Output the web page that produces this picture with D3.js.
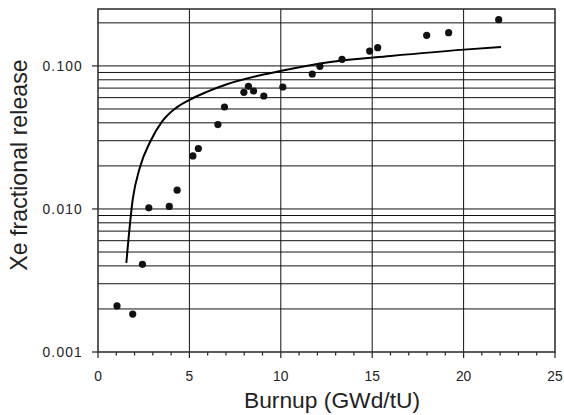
<!DOCTYPE html>
<html>
<head>
<meta charset="utf-8">
<script src="https://cdn.jsdelivr.net/npm/d3@7"></script>
<style>
  html, body { margin: 0; padding: 0; background: #fff; }
  svg { display: block; font-family: "Liberation Sans", Arial, sans-serif; }
</style>
</head>
<body>
<div id="chart"></div>
<script>
// Measured release (scatter)
const burnup = [1.04, 1.90, 2.43, 2.78, 3.90, 4.33, 5.19, 5.49, 6.56, 6.92, 7.98, 8.23,
                8.51, 9.07, 10.11, 11.72, 12.14, 13.35, 14.86, 15.30, 17.98, 19.18, 21.92];
const release = [0.00210, 0.00184, 0.00410, 0.01018, 0.01041, 0.01353, 0.02349, 0.02646,
                 0.0389, 0.0516, 0.0654, 0.0720, 0.0668, 0.0616, 0.0712, 0.0878, 0.0994,
                 0.1112, 0.127, 0.1342, 0.1636, 0.1708, 0.2106];

// Model curve
const modelBurnup = [1.55, 1.90, 2.30, 2.85, 3.49, 4.22, 5.04, 5.95, 7.05, 8.87, 9.97,
                     12.71, 15.99, 20.01, 22.05];
const modelRelease = [0.00420, 0.01165, 0.01968, 0.0294, 0.0406, 0.0503, 0.0582, 0.0658,
                      0.0744, 0.0860, 0.0921, 0.1065, 0.1173, 0.130, 0.1355];

const xTicks = [0, 5, 10, 15, 20, 25];
const yTicks = [0.001, 0.01, 0.1];

const width = 564, height = 415;
const margin = { top: 9, right: 9, bottom: 63, left: 98 };

const svg = d3.select("#chart").append("svg")
    .attr("width", width)
    .attr("height", height);

const x = d3.scaleLinear().domain([0, 25]).range([margin.left, width - margin.right]);
const y = d3.scaleLog().domain([0.001, 0.25]).range([height - margin.bottom, margin.top]);

const x0 = x.range()[0], x1 = x.range()[1];
const y0 = y.range()[0], y1 = y.range()[1];

// horizontal grid at every log step
const hGrid = [];
[0.001, 0.01, 0.1].forEach(d => {
    for (let m = 1; m <= 9; m++) {
        const v = d * m;
        if (v > 0.001 && v <= 0.25) hGrid.push(v);
    }
});
svg.append("g").selectAll("line").data(hGrid).join("line")
    .attr("x1", x0).attr("x2", x1)
    .attr("y1", d => y(d)).attr("y2", d => y(d))
    .attr("stroke", "#111").attr("stroke-width", 1);

// vertical grid
svg.append("g").selectAll("line").data(xTicks.filter(d => d > 0 && d < 25)).join("line")
    .attr("x1", d => x(d)).attr("x2", d => x(d))
    .attr("y1", y0).attr("y2", y1)
    .attr("stroke", "#111").attr("stroke-width", 1);

// x axis ticks (major + minor)
const xAxis = svg.append("g").attr("transform", `translate(0,${y0})`);
xAxis.selectAll("line").data(d3.range(0, 26)).join("line")
    .attr("x1", d => x(d)).attr("x2", d => x(d))
    .attr("y1", 0).attr("y2", d => d % 5 === 0 ? 6 : 3.5)
    .attr("stroke", "#222").attr("stroke-width", 1.2);
xAxis.selectAll("text").data(xTicks).join("text")
    .attr("x", d => x(d)).attr("y", 29)
    .attr("text-anchor", "middle")
    .attr("font-size", 13.8).attr("fill", "#222")
    .text(d => d);

// y axis ticks
const yAxis = svg.append("g").attr("transform", `translate(${x0},0)`);
yAxis.selectAll("line").data(yTicks).join("line")
    .attr("x1", -6).attr("x2", 0)
    .attr("y1", d => y(d)).attr("y2", d => y(d))
    .attr("stroke", "#222").attr("stroke-width", 1.2);
yAxis.selectAll("text").data(yTicks).join("text")
    .attr("x", -15).attr("y", d => y(d) + 5.3)
    .attr("text-anchor", "end")
    .attr("font-size", 13.8).attr("letter-spacing", 1.2).attr("fill", "#222")
    .text(d => d3.format(".3f")(d));

// frame
svg.append("rect")
    .attr("x", x0).attr("y", y1)
    .attr("width", x1 - x0).attr("height", y0 - y1)
    .attr("fill", "none").attr("stroke", "#333").attr("stroke-width", 1.6);

// model curve
const line = d3.line()
    .x(d => x(d[0]))
    .y(d => y(d[1]))
    .curve(d3.curveMonotoneX);
svg.append("path")
    .attr("d", line(d3.zip(modelBurnup, modelRelease)))
    .attr("fill", "none")
    .attr("stroke", "#000")
    .attr("stroke-width", 2);

// measured points
svg.append("g").selectAll("circle").data(d3.zip(burnup, release)).join("circle")
    .attr("cx", d => x(d[0]))
    .attr("cy", d => y(d[1]))
    .attr("r", 3.6)
    .attr("fill", "#111");

// axis titles
svg.append("text")
    .attr("x", 332).attr("y", 408)
    .attr("text-anchor", "middle")
    .attr("font-size", 22.8).attr("fill", "#222")
    .text("Burnup (GWd/tU)");

svg.append("text")
    .attr("transform", "translate(27,165) rotate(-90)")
    .attr("text-anchor", "middle")
    .attr("font-size", 23.2).attr("fill", "#222")
    .text("Xe fractional release");
</script>
</body>
</html>
